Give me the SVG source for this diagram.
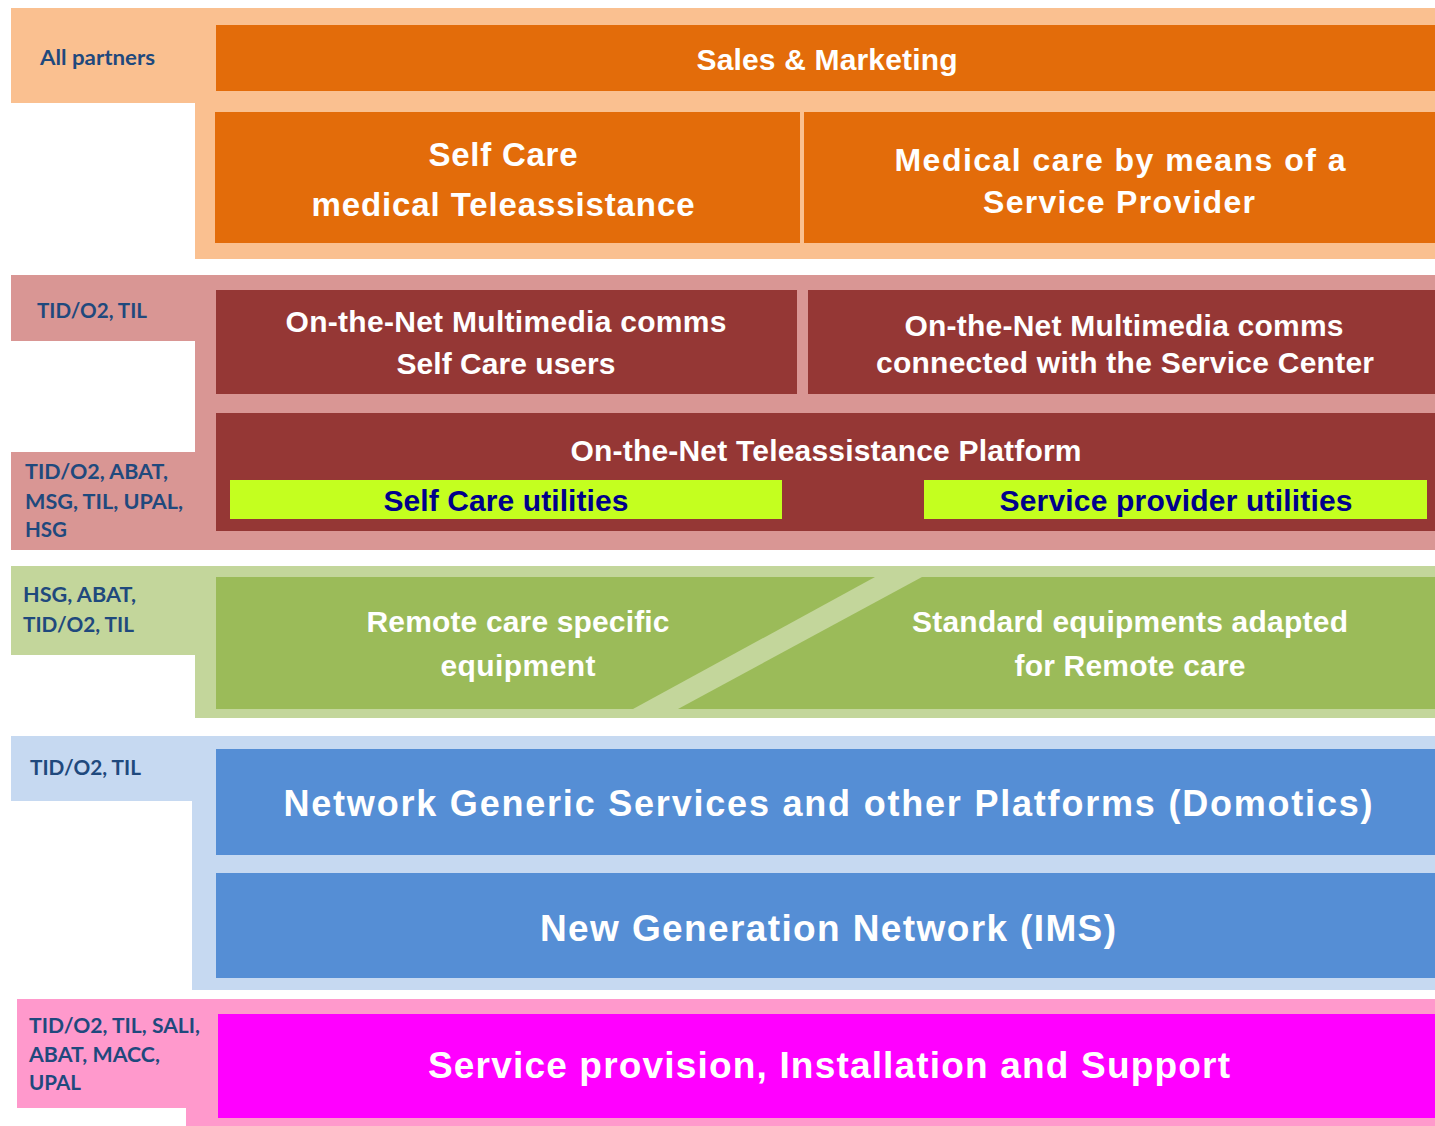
<svg xmlns="http://www.w3.org/2000/svg" width="1435" height="1126" viewBox="0 0 1435 1126">
<style>
.tab{font-family:Lato,"Open Sans",sans-serif;font-weight:bold;font-size:21px;fill:#1F497D}
.t{font-family:"Liberation Sans",Arial,sans-serif;font-weight:bold;fill:#FFFFFF;text-anchor:middle}
.u{font-family:"Liberation Sans",Arial,sans-serif;font-weight:bold;fill:#00008B;text-anchor:middle;font-size:30px}
</style>
<rect width="1435" height="1126" fill="#FFFFFF"/>
<g id="band-sales">
<path d="M11,8 H1435 V259 H195 V103 H11 Z" fill="#FAC090"/>
<text class="tab" x="40" y="65" textLength="115" lengthAdjust="spacingAndGlyphs">All partners</text>
</g>
<g id="sales-marketing">
<rect x="216" y="25" width="1219" height="66" fill="#E36C0A"/>
<text class="t" x="827" y="70" font-size="30" textLength="261" lengthAdjust="spacing">Sales &amp; Marketing</text>
</g>
<g id="self-care">
<rect x="215" y="112" width="585" height="131" fill="#E36C0A"/>
<text class="t" x="503" y="166" font-size="33" textLength="149" lengthAdjust="spacing">Self Care</text>
<text class="t" x="503" y="216" font-size="33" textLength="383" lengthAdjust="spacing">medical  Teleassistance</text>
</g>
<g id="medical-care">
<rect x="804" y="112" width="631" height="131" fill="#E36C0A"/>
<text class="t" x="1120" y="171" font-size="32" textLength="451" lengthAdjust="spacing">Medical care by means of a</text>
<text class="t" x="1119" y="213" font-size="32" textLength="272" lengthAdjust="spacing">Service Provider</text>
</g>
<g id="band-platform">
<path d="M11,275 H1435 V550 H11 V452 H195 V341 H11 Z" fill="#D99694"/>
<text class="tab" x="37" y="318" textLength="110" lengthAdjust="spacingAndGlyphs">TID/O2, TIL</text>
<text class="tab" x="25" y="479" textLength="143" lengthAdjust="spacingAndGlyphs">TID/O2, ABAT,</text>
<text class="tab" x="25" y="509" textLength="158" lengthAdjust="spacingAndGlyphs">MSG, TIL, UPAL,</text>
<text class="tab" x="25" y="537" textLength="42" lengthAdjust="spacingAndGlyphs">HSG</text>
</g>
<g id="multimedia-self">
<rect x="216" y="290" width="581" height="104" fill="#953735"/>
<text class="t" x="506" y="332" font-size="30" textLength="441" lengthAdjust="spacing">On-the-Net Multimedia comms</text>
<text class="t" x="506" y="374" font-size="30" textLength="219" lengthAdjust="spacing">Self Care users</text>
</g>
<g id="multimedia-center">
<rect x="808" y="290" width="627" height="104" fill="#953735"/>
<text class="t" x="1124" y="336" font-size="30" textLength="439" lengthAdjust="spacing">On-the-Net Multimedia comms</text>
<text class="t" x="1125" y="373" font-size="30" textLength="498" lengthAdjust="spacing">connected with the Service Center</text>
</g>
<g id="platform">
<rect x="216" y="413" width="1219" height="118" fill="#953735"/>
<text class="t" x="826" y="461" font-size="30" textLength="511" lengthAdjust="spacing">On-the-Net Teleassistance Platform</text>
</g>
<g id="self-care-utilities">
<rect x="230" y="480" width="552" height="39" fill="#C4FF1F"/>
<text class="u" x="506" y="511" textLength="245" lengthAdjust="spacing">Self Care utilities</text>
</g>
<g id="service-provider-utilities">
<rect x="924" y="480" width="503" height="39" fill="#C4FF1F"/>
<text class="u" x="1176" y="511" textLength="353" lengthAdjust="spacing">Service provider utilities</text>
</g>
<g id="band-equipment">
<path d="M11,566 H1435 V718 H195 V655 H11 Z" fill="#C3D69B"/>
<text class="tab" x="23" y="602" textLength="113" lengthAdjust="spacingAndGlyphs">HSG, ABAT,</text>
<text class="tab" x="23" y="632" textLength="111" lengthAdjust="spacingAndGlyphs">TID/O2, TIL</text>
</g>
<g id="equipment">
<rect x="216" y="577" width="1219" height="132" fill="#9BBB59"/>
<polygon points="875,577 922,577 678,709 633,709" fill="#C3D69B"/>
<text class="t" x="518" y="632" font-size="30" textLength="303" lengthAdjust="spacing">Remote care specific</text>
<text class="t" x="518" y="676" font-size="30" textLength="155" lengthAdjust="spacing">equipment</text>
<text class="t" x="1130" y="632" font-size="30" textLength="436" lengthAdjust="spacing">Standard equipments adapted</text>
<text class="t" x="1130" y="676" font-size="30" textLength="231" lengthAdjust="spacing">for Remote care</text>
</g>
<g id="band-network">
<path d="M11,736 H1435 V990 H192 V801 H11 Z" fill="#C6D9F1"/>
<text class="tab" x="30" y="775" textLength="111" lengthAdjust="spacingAndGlyphs">TID/O2, TIL</text>
</g>
<g id="generic-services">
<rect x="216" y="749" width="1219" height="106" fill="#558ED5"/>
<text class="t" x="828" y="816" font-size="36" textLength="1089" lengthAdjust="spacing">Network Generic Services and other Platforms (Domotics)</text>
</g>
<g id="ngn">
<rect x="216" y="873" width="1219" height="105" fill="#558ED5"/>
<text class="t" x="828" y="941" font-size="37" textLength="576" lengthAdjust="spacing">New Generation Network (IMS)</text>
</g>
<g id="band-support">
<path d="M17,999 H1435 V1126 H186 V1108 H17 Z" fill="#FF99CC"/>
<text class="tab" x="29" y="1033" textLength="171" lengthAdjust="spacingAndGlyphs">TID/O2, TIL, SALI,</text>
<text class="tab" x="29" y="1062" textLength="131" lengthAdjust="spacingAndGlyphs">ABAT, MACC,</text>
<text class="tab" x="29" y="1090" textLength="52" lengthAdjust="spacingAndGlyphs">UPAL</text>
</g>
<g id="support">
<rect x="218" y="1014" width="1217" height="104" fill="#FF00FF"/>
<text class="t" x="829" y="1078" font-size="37" textLength="802" lengthAdjust="spacing">Service provision, Installation and Support</text>
</g>
<g id="connectors"/>
</svg>
